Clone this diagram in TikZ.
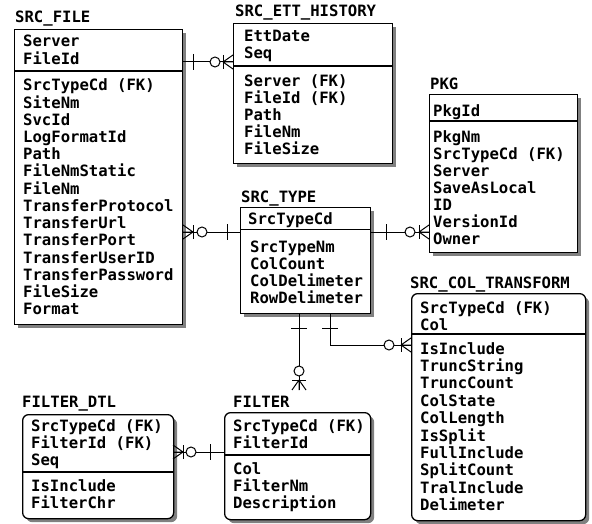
\documentclass[tikz,border=0pt]{standalone}
\usepackage{fontspec}
\usepackage{tikz}
\usetikzlibrary{shadows}
\usetikzlibrary{calc}
\newfontfamily\erfont{DejaVu Sans Mono}
\newcommand{\erf}{\erfont\bfseries\fontsize{15.6}{17}\selectfont}
\begin{document}
\begin{tikzpicture}[x=1pt,y=-1pt,
  ent/.style={
    draw, line width=1.3pt, fill=white,
    anchor=north west, inner sep=0pt,
    drop shadow={shadow xshift=3.5pt,shadow yshift=-3.5pt,
      fill=black!50,opacity=1}},
  dent/.style={ent, rounded corners=6pt},
  lbl/.style={anchor=base west, inner sep=0pt, font=\erf},
  div/.style={line width=1.3pt},
  rel/.style={line width=1pt},
  bar/.pic={\draw[rel] (0,-8) -- (0,8);},
  ring/.pic={\draw[rel,fill=white] (0,0) circle (5);},
  crow/.pic={
    \draw[rel] (0,0) -- (10,-7) (0,0) -- (10,0) (0,0) -- (10,7);
    \draw[rel] (0,-7) -- (0,7);},
]
  \useasboundingbox (0,0) rectangle (592,524);

  % SRC_FILE
  \node[ent, minimum width=168pt, minimum height=295pt] (file) at (14,29) {};
  \node[lbl] (file-t) at (15,23) {SRC\_FILE};
  \draw[div] (14,71) -- (182,71);
  \foreach \txt [count=\i from 0] in {Server,FileId}
    \node[lbl] (file-k\i) at (23,47+17.3*\i) {\txt};
  \foreach \txt [count=\i from 0] in {SrcTypeCd (FK),SiteNm,SvcId,LogFormatId,
      Path,FileNmStatic,FileNm,TransferProtocol,TransferUrl,TransferPort,
      TransferUserID,TransferPassword,FileSize,Format}
    \node[lbl] (file-a\i) at (23,91+17.2*\i) {\txt};

  % SRC_ETT_HISTORY
  \node[ent, minimum width=159pt, minimum height=140pt] (hist) at (233,23) {};
  \node[lbl] (hist-t) at (235,17) {SRC\_ETT\_HISTORY};
  \draw[div] (233,66) -- (392,66);
  \foreach \txt [count=\i from 0] in {EttDate,Seq}
    \node[lbl] (hist-k\i) at (244,42+17*\i) {\txt};
  \foreach \txt [count=\i from 0] in {Server (FK),FileId (FK),Path,FileNm,FileSize}
    \node[lbl] (hist-a\i) at (244,86.5+17*\i) {\txt};

  % PKG
  \node[ent, minimum width=148pt, minimum height=158pt] (pkg) at (429,94) {};
  \node[lbl] (pkg-t) at (430,90) {PKG};
  \draw[div] (429,121) -- (577,121);
  \node[lbl] (pkg-k0) at (433,117) {PkgId};
  \foreach \txt [count=\i from 0] in {PkgNm,SrcTypeCd (FK),Server,SaveAsLocal,
      ID,VersionId,Owner}
    \node[lbl] (pkg-a\i) at (433,143+16.9*\i) {\txt};

  % SRC_TYPE
  \node[ent, minimum width=130pt, minimum height=106pt] (type) at (240,207) {};
  \node[lbl] (type-t) at (241,203) {SRC\_TYPE};
  \draw[div] (240,229.5) -- (370,229.5);
  \node[lbl] (type-k0) at (248,225) {SrcTypeCd};
  \foreach \txt [count=\i from 0] in {SrcTypeNm,ColCount,ColDelimeter,RowDelimeter}
    \node[lbl] (type-a\i) at (250,252.5+17*\i) {\txt};

  % SRC_COL_TRANSFORM
  \node[dent, minimum width=174pt, minimum height=227pt] (ctrans) at (411,293) {};
  \node[lbl] (ctrans-t) at (410,288) {SRC\_COL\_TRANSFORM};
  \draw[div] (411,334) -- (585,334);
  \foreach \txt [count=\i from 0] in {SrcTypeCd (FK),Col}
    \node[lbl] (ctrans-k\i) at (420,313.5+16.5*\i) {\txt};
  \foreach \txt [count=\i from 0] in {IsInclude,TruncString,TruncCount,ColState,
      ColLength,IsSplit,FullInclude,SplitCount,TralInclude,Delimeter}
    \node[lbl] (ctrans-a\i) at (420,354+17.4*\i) {\txt};

  % FILTER
  \node[dent, minimum width=146pt, minimum height=107pt] (filter) at (224,412) {};
  \node[lbl] (filter-t) at (233,407) {FILTER};
  \draw[div] (224,455) -- (370,455);
  \foreach \txt [count=\i from 0] in {SrcTypeCd (FK),FilterId}
    \node[lbl] (filter-k\i) at (233,431+17*\i) {\txt};
  \foreach \txt [count=\i from 0] in {Col,FilterNm,Description}
    \node[lbl] (filter-a\i) at (233,474+17*\i) {\txt};

  % FILTER_DTL
  \node[dent, minimum width=151pt, minimum height=104pt] (fdtl) at (22,414) {};
  \node[lbl] (fdtl-t) at (22,407) {FILTER\_DTL};
  \draw[div] (22,472) -- (173,472);
  \foreach \txt [count=\i from 0] in {SrcTypeCd (FK),FilterId (FK),Seq}
    \node[lbl] (fdtl-k\i) at (31,431+17*\i) {\txt};
  \foreach \txt [count=\i from 0] in {IsInclude,FilterChr}
    \node[lbl] (fdtl-a\i) at (31,491+17*\i) {\txt};

  % relationships
  \coordinate (fh) at (0,62);
  \coordinate (ft) at (0,232);
  \coordinate (tc) at (330,345);
  \coordinate (tf) at (299,390);
  \coordinate (dl) at (0,452);

  \draw[rel] (file.east |- fh) -- (hist.west |- fh);
  \pic at (193,62) {bar};
  \pic at (215,62) {ring};
  \pic at (223,62) {crow};

  \draw[rel] (file.east |- ft) -- (type.west |- ft);
  \pic[rotate=180] at (193,232) {crow};
  \pic at (202,232) {ring};
  \pic at (227,232) {bar};

  \draw[rel] (type.east |- ft) -- (pkg.west |- ft);
  \pic at (386,232) {bar};
  \pic at (410,232) {ring};
  \pic at (419,232) {crow};

  \draw[rel] (type.south -| tc) |- (ctrans.west |- tc);
  \pic[rotate=90] at (330,328) {bar};
  \pic at (389,345) {ring};
  \pic at (401,345) {crow};

  \draw[rel] (type.south -| tf) -- (tf);
  \pic[rotate=90] at (299,328) {bar};
  \pic at (299,371) {ring};
  \pic[rotate=-90] at (299,380) {crow};

  \draw[rel] (fdtl.east |- dl) -- (filter.west |- dl);
  \pic[rotate=180] at (183,452) {crow};
  \pic at (191,452) {ring};
  \pic at (210,452) {bar};
\end{tikzpicture}
\end{document}
